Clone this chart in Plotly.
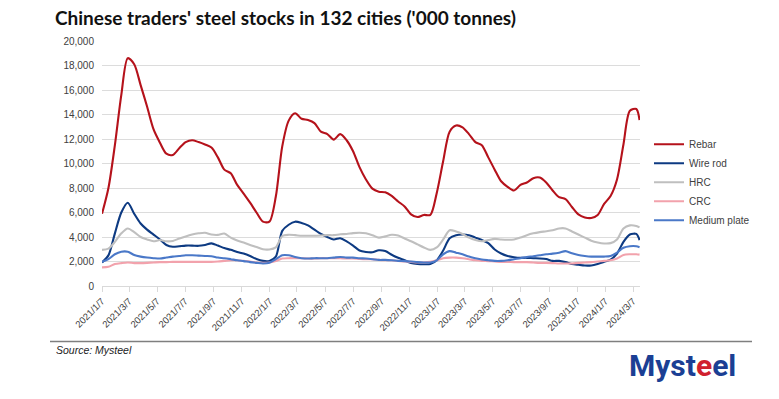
import pandas as pd
import plotly.graph_objects as go

# ---------------- data ----------------
weekly = pd.date_range("2021-01-07", "2024-03-21", freq="7D")
dates = list(weekly[::2]) + [weekly[-1]]

tick_labels = ["2021/1/7", "2021/3/7", "2021/5/7", "2021/7/7", "2021/9/7", "2021/11/7",
               "2022/1/7", "2022/3/7", "2022/5/7", "2022/7/7", "2022/9/7", "2022/11/7",
               "2023/1/7", "2023/3/7", "2023/5/7", "2023/7/7", "2023/9/7", "2023/11/7",
               "2024/1/7", "2024/3/7"]

rebar = [5900, 8000, 11500, 15600, 18600, 18100, 16400, 14650, 12800, 11700,
         10800, 10700, 11250, 11750, 11900, 11750, 11550, 11300, 10500, 9500,
         9200, 8250, 7550, 6800, 6000, 5250, 5250, 7300, 11400, 13500,
         14100, 13650, 13550, 13300, 12600, 12400, 11950, 12400, 11900, 11000,
         9700, 8700, 7950, 7700, 7650, 7350, 6900, 6500, 5850, 5630,
         5800, 5800, 7600, 10200, 12600, 13100, 12950, 12400, 11750, 11500,
         10500, 9500, 8550, 8100, 7800, 8250, 8450, 8800, 8850, 8450,
         7800, 7250, 7100, 6450, 5850, 5600, 5550, 5800, 6700, 7350,
         8700, 11550, 14300, 14450, 13550]

wire_rod = [1920, 2500, 4300, 6000, 6800, 5900, 5100, 4600, 4200, 3800,
            3350, 3200, 3250, 3300, 3300, 3280, 3350, 3480, 3300, 3100,
            2950, 2780, 2650, 2450, 2200, 2050, 2050, 2400, 4500, 5000,
            5250, 5150, 4950, 4600, 4250, 4000, 3800, 3900, 3650, 3300,
            2900, 2780, 2750, 2920, 2850, 2550, 2300, 2100, 1880, 1800,
            1780, 1800, 2100, 2900, 3900, 4150, 4200, 4150, 3950, 3750,
            3500, 2980, 2650, 2450, 2350, 2300, 2300, 2270, 2250, 2200,
            2050, 2050, 1950, 1800, 1730, 1670, 1680, 1800, 1970, 2150,
            2650, 3600, 4200, 4250, 3750]

hrc = [2950, 3050, 3600, 4300, 4700, 4400, 4000, 3800, 3650, 3750,
       3650, 3680, 3870, 4050, 4200, 4300, 4350, 4200, 4170, 4280,
       3950, 3720, 3550, 3350, 3180, 3000, 2980, 3150, 4080, 4180,
       4150, 4100, 4100, 4100, 4120, 4150, 4150, 4220, 4250, 4320,
       4350, 4300, 4150, 3950, 4050, 4180, 4120, 3880, 3650, 3400,
       3150, 2950, 3150, 3800, 4550, 4450, 4250, 3950, 3750, 3650,
       3750, 3850, 3800, 3780, 3800, 3950, 4150, 4300, 4400, 4470,
       4550, 4700, 4700, 4450, 4200, 3950, 3700, 3550, 3470, 3500,
       3800, 4700, 4950, 4900, 4780]

crc = [1520, 1570, 1790, 1870, 1920, 1870, 1870, 1890, 1920, 1950,
       1950, 1970, 1970, 1970, 1970, 1970, 1970, 1970, 2000, 2050,
       2100, 2100, 2050, 2000, 1920, 1890, 1920, 2050, 2240, 2270,
       2270, 2270, 2240, 2240, 2270, 2270, 2270, 2270, 2240, 2240,
       2210, 2190, 2190, 2130, 2100, 2100, 2050, 2000, 1970, 1920,
       1920, 1970, 2100, 2270, 2320, 2320, 2270, 2190, 2100, 2050,
       2030, 2000, 1970, 1970, 1950, 1950, 1950, 1920, 1890, 1890,
       1870, 1840, 1840, 1840, 1890, 1920, 1950, 2000, 2050, 2100,
       2240, 2530, 2590, 2590, 2560]

medium_plate = [1970, 2190, 2590, 2800, 2800, 2530, 2400, 2320, 2270, 2240,
                2320, 2400, 2450, 2510, 2510, 2480, 2450, 2430, 2320, 2270,
                2190, 2100, 2030, 1950, 1890, 1840, 1890, 2190, 2510, 2510,
                2370, 2270, 2240, 2270, 2270, 2270, 2320, 2370, 2320, 2320,
                2270, 2240, 2190, 2130, 2130, 2100, 2050, 2030, 2000, 1950,
                1920, 1920, 2100, 2590, 2850, 2720, 2590, 2400, 2270, 2160,
                2100, 2050, 2050, 2100, 2190, 2270, 2370, 2430, 2510, 2590,
                2640, 2720, 2850, 2670, 2530, 2450, 2400, 2400, 2400, 2450,
                2720, 3120, 3250, 3250, 3170]

series = [
    ("Rebar", rebar, "#B5121B"),
    ("Wire rod", wire_rod, "#0D3A82"),
    ("HRC", hrc, "#BFBFBF"),
    ("CRC", crc, "#F2A2AC"),
    ("Medium plate", medium_plate, "#4A78C8"),
]

# ---------------- layout geometry ----------------
W, H = 779, 399
L, R, T, B = 102, 640, 41, 286.5


def px(x):
    return (x - L) / (R - L)


def py(y):
    return (B - y) / (B - T)


fig = go.Figure()
for name, vals, color in series:
    fig.add_trace(go.Scatter(
        x=dates, y=vals, name=name, mode="lines",
        line=dict(color=color, width=2.1, shape="spline", smoothing=0.8),
    ))

tickvals = pd.to_datetime(tick_labels, format="%Y/%m/%d")

fig.update_layout(
    width=W, height=H,
    margin=dict(l=L, r=W - R, t=T, b=H - B, pad=0),
    plot_bgcolor="white", paper_bgcolor="white",
    font=dict(family="Liberation Sans, Arial, sans-serif", color="#404040", size=10),
    title=dict(
        text="<b>Chinese traders' steel stocks in 132 cities ('000 tonnes)</b>",
        x=55 / W, xanchor="left", xref="container",
        y=1 - 18 / H, yanchor="middle", yref="container",
        font=dict(family="Lato, sans-serif", size=19, color="#111111"),
    ),
    xaxis=dict(
        type="date",
        range=[dates[0], "2024-03-22"],
        tickvals=tickvals, ticktext=tick_labels,
        tickangle=-45,
        ticks="outside", ticklen=5, tickcolor="#d9d9d9",
        showline=True, linecolor="#d9d9d9", linewidth=1,
        showgrid=False, zeroline=False,
        tickfont=dict(size=9.5, color="#404040"),
    ),
    yaxis=dict(
        range=[0, 20000], dtick=2000, tickformat=",",
        showgrid=True, gridcolor="#dcdcdc", gridwidth=1,
        zeroline=False, showline=False,
        ticks="outside", ticklen=5, tickcolor="rgba(0,0,0,0)",
        tickfont=dict(size=10, color="#404040"),
    ),
    legend=dict(
        x=px(649), y=py(130), xanchor="left", yanchor="top",
        bgcolor="rgba(0,0,0,0)", itemwidth=30, tracegroupgap=0,
        font=dict(size=10, color="#404040"),
    ),
    shapes=[dict(
        type="line", xref="paper", yref="paper",
        x0=px(50), x1=px(752), y0=py(342), y1=py(342),
        line=dict(color="#7f7f7f", width=1.5),
    )],
    annotations=[
        dict(text="<i>Source: Mysteel</i>", xref="paper", yref="paper",
             x=px(54), y=py(351), xanchor="left", yanchor="middle",
             showarrow=False, font=dict(size=10.5, color="#222222")),
        dict(text="<b>Myst<span style='color:#D0202E'>e</span>el</b>",
             xref="paper", yref="paper",
             x=px(682), y=py(366), xanchor="center", yanchor="middle",
             showarrow=False,
             font=dict(family="Roboto, sans-serif", size=30, color="#1B3F94")),
    ],
)

fig.write_html("out.html", config={"displayModeBar": False},
               post_script="document.body.style.margin='0';")
